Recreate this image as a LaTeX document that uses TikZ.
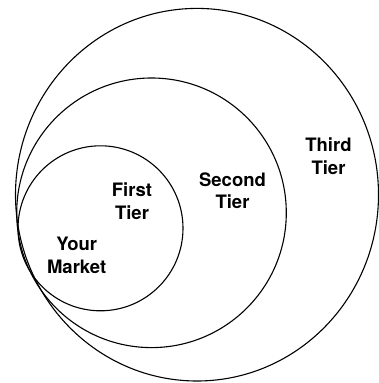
\documentclass[tikz,border=0pt]{standalone}
\usepackage{fontspec}
\setmainfont{TeX Gyre Heros}
\begin{document}
\begin{tikzpicture}[x=1pt,y=-1pt,
  ring/.style={draw=black,line width=1.1pt},
  tierlabel/.style={font=\bfseries\fontsize{18.5}{22.5}\selectfont,align=center,inner sep=0pt,text=black}]
\useasboundingbox (0,0) rectangle (379,383);
% circles
\draw[ring] (197,194.7) ellipse [x radius=181.5, y radius=186.3];
\draw[ring] (151.5,212.8) circle [radius=134.8];
\draw[ring] (100.5,228.3) circle [radius=82.5];
% labels
\node[tierlabel] (market) at (76.7,255.5) {Your\\Market};
\node[tierlabel] (first) at (132,201) {First\\Tier};
\node[tierlabel] (second) at (232.5,190.5) {Second\\Tier};
\node[tierlabel] (third) at (328.5,156) {Third\\Tier};
\end{tikzpicture}
\end{document}
